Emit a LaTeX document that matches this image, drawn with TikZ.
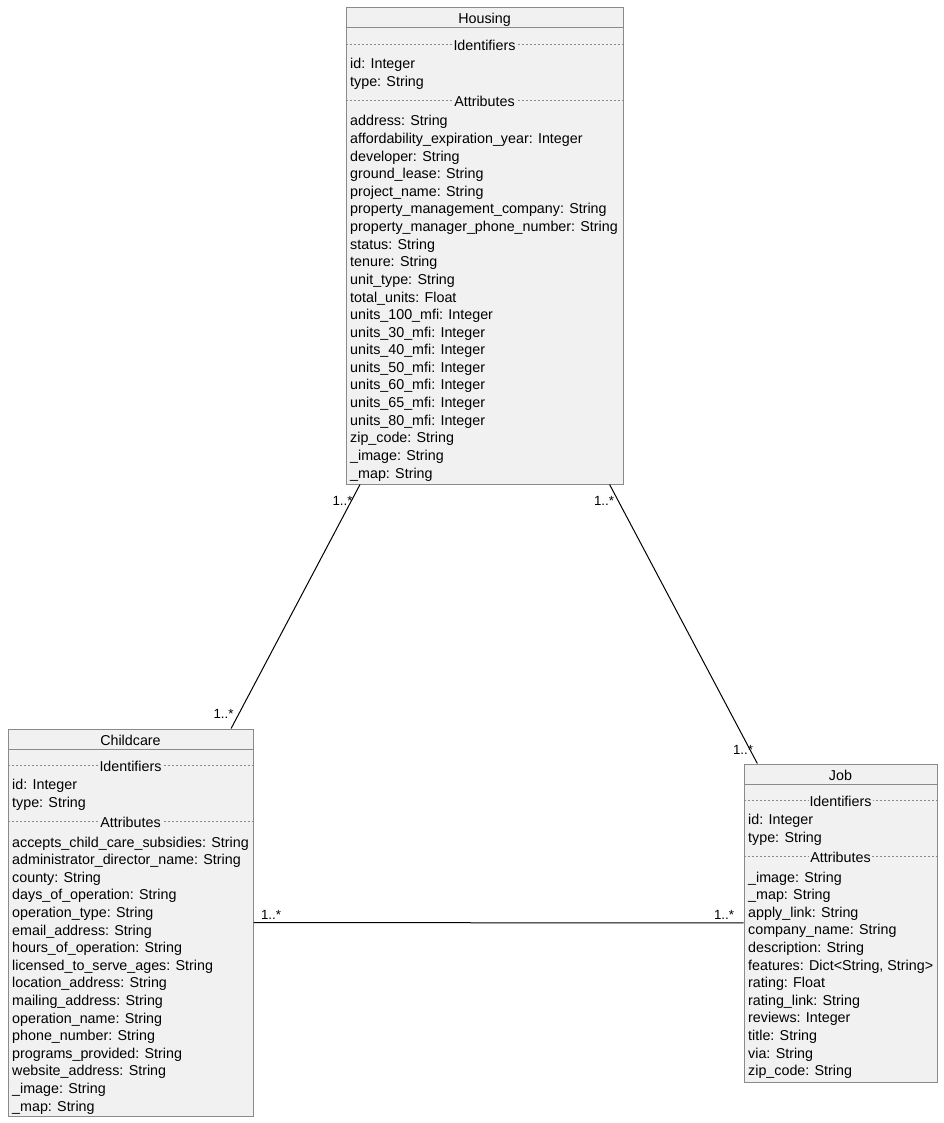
\documentclass[tikz,border=0pt]{standalone}
\usepackage{fontspec}
\setmainfont{Liberation Sans}
\usetikzlibrary{calc}
\definecolor{boxfill}{HTML}{F1F1F1}
\definecolor{boxline}{HTML}{8A8A8A}

\tikzset{
  classbox/.style={draw=boxline, fill=boxfill, line width=1pt, inner sep=0pt, rectangle},
  titletext/.style={inner sep=0pt, font=\fontsize{14.3}{17}\selectfont},
  member/.style={anchor=west, inner sep=0pt, font=\fontsize{14.3}{17}\selectfont},
  sepline/.style={draw=boxline, line width=0.8pt, dash pattern=on 2.5pt off 1.5pt},
  seplabel/.style={fill=boxfill, inner sep=1pt, font=\fontsize{14.3}{17}\selectfont},
  assoc/.style={draw=black, line width=1pt},
  mult/.style={inner sep=0pt, font=\fontsize{13.3}{15}\selectfont},
}

% #1 node name, #2 title, #3 centre, #4 width, #5 height,
% #6 identifier members, #7 attribute members
\newcommand\umlclass[7]{%
  \node[classbox, minimum width=#4, minimum height=#5] (#1) at #3 {};
  \node[titletext] (#1-title) at ([shift={(0,12)}]#1.north) {#2};
  \draw[draw=boxline, line width=1pt] ([shift={(0,20.5)}]#1.north west) -- ([shift={(0,20.5)}]#1.north east);
  \draw[sepline] ([shift={(0,37)}]#1.north west) -- ([shift={(0,37)}]#1.north east);
  \node[seplabel] (#1-ids) at ([shift={(0,38)}]#1.north) {Identifiers};
  \foreach \t [count=\i from 0] in {#6}
    \node[member] (#1-id\i) at ([shift={(4.5,57.5+17.5*\i)}]#1.north west) {\t};
  \draw[sepline] ([shift={(0,93)}]#1.north west) -- ([shift={(0,93)}]#1.north east);
  \node[seplabel] (#1-attrs) at ([shift={(0,94)}]#1.north) {Attributes};
  \foreach \t [count=\i from 0] in {#7}
    \node[member] (#1-at\i) at ([shift={(4.5,114.8+17.6*\i)}]#1.north west) {\t};
}

\begin{document}
\begin{tikzpicture}[x=1pt, y=-1pt]
\useasboundingbox[fill=white] (0,0) rectangle (943,1123);

\umlclass{housing}{Housing}{(484.5,246)}{277}{476}
  {id: Integer, type: String}
  {address: String,
   affordability\_expiration\_year: Integer,
   developer: String,
   ground\_lease: String,
   project\_name: String,
   property\_management\_company: String,
   property\_manager\_phone\_number: String,
   status: String,
   tenure: String,
   unit\_type: String,
   total\_units: Float,
   units\_100\_mfi: Integer,
   units\_30\_mfi: Integer,
   units\_40\_mfi: Integer,
   units\_50\_mfi: Integer,
   units\_60\_mfi: Integer,
   units\_65\_mfi: Integer,
   units\_80\_mfi: Integer,
   zip\_code: String,
   \_image: String,
   \_map: String}

\umlclass{childcare}{Childcare}{(130.5,922.5)}{245}{387}
  {id: Integer, type: String}
  {accepts\_child\_care\_subsidies: String,
   administrator\_director\_name: String,
   county: String,
   days\_of\_operation: String,
   operation\_type: String,
   email\_address: String,
   hours\_of\_operation: String,
   licensed\_to\_serve\_ages: String,
   location\_address: String,
   mailing\_address: String,
   operation\_name: String,
   phone\_number: String,
   programs\_provided: String,
   website\_address: String,
   \_image: String,
   \_map: String}

\umlclass{job}{Job}{(840.5,923)}{193}{318}
  {id: Integer, type: String}
  {\_image: String,
   \_map: String,
   apply\_link: String,
   company\_name: String,
   description: String,
   {features: Dict<String, String>},
   rating: Float,
   rating\_link: String,
   reviews: Integer,
   title: String,
   via: String,
   zip\_code: String}

% associations, centre to centre, clipped at the box borders
\draw[assoc] (housing) -- (childcare);
\draw[assoc] (housing) -- (job);
\draw[assoc] (childcare) -- (job);

% multiplicities
\node[mult] (m-hc1) at (342.5,500.5) {1..*};
\node[mult] (m-hc2) at (223.5,713.5) {1..*};
\node[mult] (m-hj1) at (604,500.5) {1..*};
\node[mult] (m-hj2) at (743,749.5) {1..*};
\node[mult] (m-cj1) at (271,914.5) {1..*};
\node[mult] (m-cj2) at (724,914.5) {1..*};
\end{tikzpicture}
\end{document}
